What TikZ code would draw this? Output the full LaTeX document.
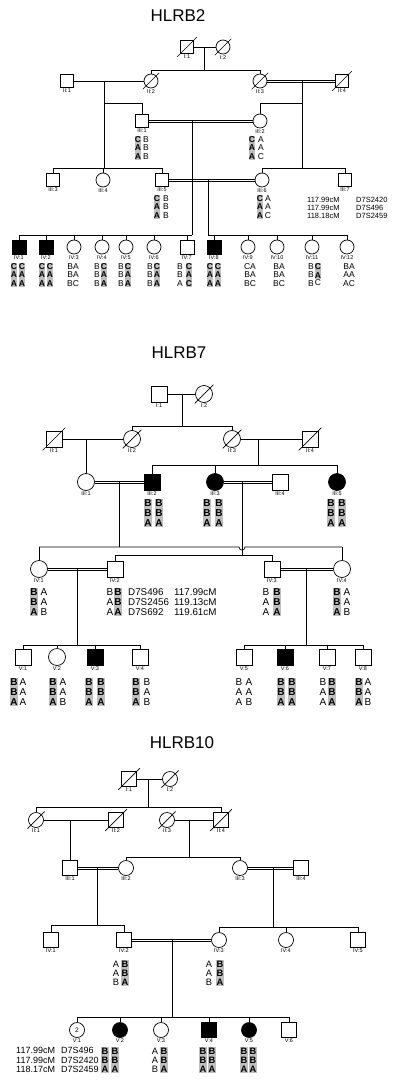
\documentclass[tikz,border=0pt]{standalone}
\usepackage{fontspec}
\setmainfont{Liberation Sans}
\definecolor{shd}{RGB}{190,190,190}
\tikzset{
 ln/.style={line width=0.7pt},
 dln/.style={line width=0.65pt},
 sq/.style={draw, rectangle, minimum size=#1, inner sep=0pt, line width=0.7pt},
 ci/.style={draw, circle, minimum size=#1, inner sep=0pt, line width=0.7pt},
 aff/.style={fill=black},
 lab/.style={font=\fontsize{5.5}{6}\selectfont, inner sep=0pt, label distance=1pt},
 L/.style={label={[lab]below:{#1}}},
 ttl/.style={font=\fontsize{17}{17}\selectfont, inner sep=0pt},
 gg/.style={align=center, inner sep=0.4pt},
 s2/.style={gg, fill=shd, font=\bfseries\fontsize{8.5}{8.3}\selectfont},
 p2/.style={gg, font=\fontsize{8.5}{8.3}\selectfont},
 s7/.style={gg, fill=shd, font=\bfseries\fontsize{10}{10}\selectfont},
 p7/.style={gg, font=\fontsize{10}{10}\selectfont},
 s10/.style={gg, fill=shd, font=\bfseries\fontsize{9.3}{9.2}\selectfont},
 p10/.style={gg, font=\fontsize{9.3}{9.2}\selectfont},
 mk2/.style={align=left, anchor=west, inner sep=0pt, font=\fontsize{7.5}{8.2}\selectfont},
 mk7/.style={align=left, anchor=west, inner sep=0pt, font=\fontsize{9.8}{10}\selectfont},
 mk10/.style={align=left, anchor=west, inner sep=0pt, font=\fontsize{9}{9.2}\selectfont},
}
\newcommand\dead[1]{\draw[line width=0.7pt] ([shift={(-3,3)}]#1.south west) -- ([shift={(3,-3)}]#1.north east);}
\newcommand\dmarr[2]{\draw[dln] ([yshift=1pt]#1.east) -- ([yshift=1pt]#2.west);\draw[dln] ([yshift=-1pt]#1.east) -- ([yshift=-1pt]#2.west);}
\begin{document}
\begin{tikzpicture}[x=1pt,y=-1pt]
\fill[white] (0,0) rectangle (400,1086);
\useasboundingbox (0,0) rectangle (400,1086);

%================ HLRB2 ================
\node[ttl] (tA) at (178,16) {HLRB2};
\node[sq=13, L=I:1] (aI1) at (187,47) {};
\node[ci=14, L=I:2] (aI2) at (223,47) {};
\node[sq=13, L=II:1] (aII1) at (67,81) {};
\node[ci=14, L=II:2] (aII2) at (151,81) {};
\node[ci=14, L=II:3] (aII3) at (260,81) {};
\node[sq=13, L=II:4] (aII4) at (342,81) {};
\node[sq=13, L=III:1] (aIII1) at (142,121) {};
\node[ci=14, L=III:2] (aIII2) at (260,121) {};
\node[sq=13, L=III:3] (aIII3) at (53,180) {};
\node[ci=14, L=III:4] (aIII4) at (103,180) {};
\node[sq=13, L=III:5] (aIII5) at (162,180) {};
\node[ci=14, L=III:6] (aIII6) at (262,180) {};
\node[sq=13, L=III:7] (aIII7) at (345,180) {};
\node[sq=14, aff, L=IV:1] (aIV1) at (19,247) {};
\node[sq=14, aff, L=IV:2] (aIV2) at (46,247) {};
\node[ci=14, L=IV:3] (aIV3) at (74,247) {};
\node[ci=14, L=IV:4] (aIV4) at (102,247) {};
\node[ci=14, L=IV:5] (aIV5) at (126,247) {};
\node[ci=14, L=IV:6] (aIV6) at (154,247) {};
\node[sq=14, L=IV:7] (aIV7) at (187,247) {};
\node[sq=14, aff, L=IV:8] (aIV8) at (214,247) {};
\node[ci=14, L=IV:9] (aIV9) at (248,247) {};
\node[ci=14, L=IV:10] (aIV10) at (277,247) {};
\node[ci=14, L=IV:11] (aIV11) at (312,247) {};
\node[ci=14, L=IV:12] (aIV12) at (347,247) {};
\dead{aI1}\dead{aI2}\dead{aII2}\dead{aII3}\dead{aII4}
% marriages
\draw[ln] (aI1) -- (aI2);
\draw[ln] (aII1) -- (aII2);
\dmarr{aII3}{aII4}
\dmarr{aIII1}{aIII2}
% descents
\coordinate (aM1) at (204,47); \coordinate (aS1) at (204,70);
\draw[ln] (aM1) -- (aS1);
\draw[ln] (aII2 |- aS1) -- (aII3 |- aS1);
\draw[ln] (aII2) -- (aII2 |- aS1);
\draw[ln] (aII3) -- (aII3 |- aS1);
\coordinate (aM2) at (104,81); \coordinate (aS3) at (104,168); \coordinate (aB1) at (104,103);
\draw[ln] (aM2) -- (aS3);
\draw[ln] (aB1) -| (aIII1);
\draw[ln] (aIII3 |- aS3) -- (aIII5 |- aS3);
\foreach \c in {aIII3,aIII4,aIII5} \draw[ln] (\c) -- (\c |- aS3);
\coordinate (aM3) at (302,81); \coordinate (aS4) at (302,168); \coordinate (aB2) at (302,103);
\draw[ln] (aM3) -- (aS4);
\draw[ln] (aB2) -| (aIII2);
\draw[ln] (aIII6 |- aS4) -- (aIII7 |- aS4);
\foreach \c in {aIII6,aIII7} \draw[ln] (\c) -- (\c |- aS4);
\coordinate (aM4) at (192,121); \coordinate (aS5) at (192,235);
\draw[ln] (aM4) -- (aS5);
\dmarr{aIII5}{aIII6}
\coordinate (aM5) at (208,180); \coordinate (aS6) at (208,235);
\draw[ln] (aM5) -- (aS6);
\draw[ln] (aIV1 |- aS5) -- (aS5);
\draw[ln] (aS6) -- (aIV12 |- aS6);
\foreach \c in {aIV1,aIV2,aIV3,aIV4,aIV5,aIV6,aIV7} \draw[ln] (\c) -- (\c |- aS5);
\foreach \c in {aIV8,aIV9,aIV10,aIV11,aIV12} \draw[ln] (\c) -- (\c |- aS6);
% genotypes
\node[s2] (ga1) at (138,148) {C\\A\\A};
\node[p2] (ga2) at (146,148) {B\\B\\B};
\node[s2] (ga3) at (252,148) {C\\A\\A};
\node[p2] (ga4) at (261,148) {A\\A\\C};
\node[s2] (ga5) at (157,207) {C\\A\\A};
\node[p2] (ga6) at (166,207) {B\\B\\B};
\node[s2] (ga7) at (260,207) {C\\A\\A};
\node[p2] (ga8) at (268,207) {A\\A\\C};
\node[mk2] (ga9) at (307,208) {117.99cM\\117.99cM\\118.18cM};
\node[mk2] (ga10) at (356,208) {D7S2420\\D7S496\\D7S2459};
\node[s2] (gb1) at (14,275) {C\\A\\A};
\node[s2] (gb2) at (22,275) {C\\A\\A};
\node[s2] (gb3) at (42,275) {C\\A\\A};
\node[s2] (gb4) at (50,275) {C\\A\\A};
\node[p2] (gb5) at (73,275) {BA\\BA\\BC};
\node[p2] (gb6) at (97,275) {B\\B\\B};
\node[s2] (gb7) at (104,275) {C\\A\\A};
\node[p2] (gb8) at (121,275) {B\\B\\B};
\node[s2] (gb9) at (128,275) {C\\A\\A};
\node[p2] (gb10) at (150,275) {B\\B\\B};
\node[s2] (gb11) at (157,275) {C\\A\\A};
\node[p2] (gb12) at (180,275) {B\\B\\A};
\node[s2] (gb13) at (189,275) {C\\A\\C};
\node[s2] (gb14) at (210,275) {C\\A\\A};
\node[s2] (gb15) at (218,275) {C\\A\\A};
\node[p2] (gb16) at (250,275) {CA\\BA\\BC};
\node[p2] (gb17) at (279,275) {BA\\BA\\BC};
\node[p2] (gb18) at (311,275) {B\\B\\B};
\node[s2] (gb19) at (318,271) {C\\A};
\node[p2] (gb20) at (318,283) {C};
\node[p2] (gb21) at (349,275) {BA\\AA\\AC};

%================ HLRB7 ================
\node[ttl] (tB) at (179,353) {HLRB7};
\node[sq=16, L=I:1] (bI1) at (159,394) {};
\node[ci=17, L=I:2] (bI2) at (204,394) {};
\node[sq=16, L=II:1] (bII1) at (54,439) {};
\node[ci=17, L=II:2] (bII2) at (132,439) {};
\node[ci=17, L=II:3] (bII3) at (232,439) {};
\node[sq=16, L=II:4] (bII4) at (310,439) {};
\node[ci=17, L=III:1] (bIII1) at (86,482) {};
\node[sq=16, aff, L=III:2] (bIII2) at (152,482) {};
\node[ci=17, aff, L=III:3] (bIII3) at (215,482) {};
\node[sq=16, L=III:4] (bIII4) at (280,482) {};
\node[ci=17, aff, L=III:5] (bIII5) at (337,482) {};
\node[ci=17, L=IV:1] (bIV1) at (39,569) {};
\node[sq=16, L=IV:2] (bIV2) at (115,569) {};
\node[sq=16, L=IV:3] (bIV3) at (272,569) {};
\node[ci=17, L=IV:4] (bIV4) at (342,569) {};
\node[sq=16, L=V:1] (bV1) at (23,657) {};
\node[ci=17, L=V:2] (bV2) at (57,657) {};
\node[sq=16, aff, L=V:3] (bV3) at (95,657) {};
\node[sq=16, L=V:4] (bV4) at (140,657) {};
\node[sq=16, L=V:5] (bV5) at (244,657) {};
\node[sq=16, aff, L=V:6] (bV6) at (285,657) {};
\node[sq=16, L=V:7] (bV7) at (327,657) {};
\node[sq=16, L=V:8] (bV8) at (363,657) {};
\dead{bI2}\dead{bII1}\dead{bII2}\dead{bII3}\dead{bII4}
\draw[ln] (bI1) -- (bI2);
\draw[ln] (bII1) -- (bII2);
\draw[ln] (bII3) -- (bII4);
\dmarr{bIII1}{bIII2}
\dmarr{bIII3}{bIII4}
\dmarr{bIV1}{bIV2}
\dmarr{bIV3}{bIV4}
\coordinate (bM1) at (182,394); \coordinate (bS1) at (182,426);
\draw[ln] (bM1) -- (bS1);
\draw[ln] (bII2 |- bS1) -- (bII3 |- bS1);
\foreach \c in {bII2,bII3} \draw[ln] (\c) -- (\c |- bS1);
\coordinate (bM2) at (86,439);
\draw[ln] (bM2) -- (bIII1);
\coordinate (bM3) at (258,439); \coordinate (bS2) at (258,465);
\draw[ln] (bM3) -- (bS2);
\draw[ln] (bIII2 |- bS2) -- (bIII5 |- bS2);
\foreach \c in {bIII2,bIII3,bIII5} \draw[ln] (\c) -- (\c |- bS2);
\coordinate (bM4) at (119,482); \coordinate (bS3) at (119,547);
\draw[ln] (bM4) -- (bS3);
\coordinate (bM5) at (242,482); \coordinate (bS4) at (242,555);
\draw[ln] (bM5) -- (bS4);
\draw[ln] (bIV1 |- bS3) -- (239,547) arc[start angle=180, end angle=0, radius=3] -- (bIV4 |- bS3);
\draw[ln] (bIV2 |- bS4) -- (bIV3 |- bS4);
\foreach \c in {bIV1,bIV4} \draw[ln] (\c) -- (\c |- bS3);
\foreach \c in {bIV2,bIV3} \draw[ln] (\c) -- (\c |- bS4);
\coordinate (bM6) at (77,569); \coordinate (bS5) at (77,645);
\draw[ln] (bM6) -- (bS5);
\coordinate (bM7) at (306,569); \coordinate (bS6) at (306,645);
\draw[ln] (bM7) -- (bS6);
\draw[ln] (bV1 |- bS5) -- (bV4 |- bS5);
\draw[ln] (bV5 |- bS6) -- (bV8 |- bS6);
\foreach \c in {bV1,bV2,bV3,bV4} \draw[ln] (\c) -- (\c |- bS5);
\foreach \c in {bV5,bV6,bV7,bV8} \draw[ln] (\c) -- (\c |- bS6);
% genotypes
\node[s7] (gc1) at (148,513) {B\\B\\A};
\node[s7] (gc2) at (159,513) {B\\B\\A};
\node[s7] (gc3) at (207,513) {B\\B\\A};
\node[s7] (gc4) at (219,513) {B\\B\\A};
\node[s7] (gc5) at (331,513) {B\\B\\A};
\node[s7] (gc6) at (342,513) {B\\B\\A};
\node[s7] (gd1) at (34,602) {B\\B\\A};
\node[p7] (gd2) at (44,602) {A\\A\\B};
\node[p7] (gd3) at (110,602) {B\\A\\A};
\node[s7] (gd4) at (118,602) {B\\B\\A};
\node[mk7] (gd5) at (128,602) {D7S496\\D7S2456\\D7S692};
\node[mk7] (gd6) at (174,602) {117.99cM\\119.13cM\\119.61cM};
\node[p7] (gd7) at (266,602) {B\\A\\A};
\node[s7] (gd8) at (277,602) {B\\B\\A};
\node[s7] (gd9) at (337,602) {B\\B\\A};
\node[p7] (gd10) at (347,602) {A\\A\\B};
\node[s7] (ge1) at (14,692) {B\\B\\A};
\node[p7] (ge2) at (23,692) {A\\A\\A};
\node[s7] (ge3) at (53,692) {B\\B\\A};
\node[p7] (ge4) at (63,692) {A\\A\\B};
\node[s7] (ge5) at (89,692) {B\\B\\A};
\node[s7] (ge6) at (101,692) {B\\B\\A};
\node[s7] (ge7) at (136,692) {B\\B\\A};
\node[p7] (ge8) at (147,692) {B\\A\\B};
\node[p7] (ge9) at (239,692) {B\\A\\A};
\node[p7] (ge10) at (249,692) {A\\A\\B};
\node[s7] (ge11) at (281,692) {B\\B\\A};
\node[s7] (ge12) at (292,692) {B\\B\\A};
\node[p7] (ge13) at (323,692) {B\\A\\A};
\node[s7] (ge14) at (332,692) {B\\B\\A};
\node[s7] (ge15) at (359,692) {B\\B\\A};
\node[p7] (ge16) at (368,692) {A\\A\\B};

%================ HLRB10 ================
\node[ttl] (tC) at (182,743) {HLRB10};
\node[sq=15, L=I:1] (cI1) at (129,779) {};
\node[ci=15, L=I:2] (cI2) at (170,779) {};
\node[ci=15, L=II:1] (cII1) at (36,820) {};
\node[sq=15, L=II:2] (cII2) at (116,820) {};
\node[ci=15, L=II:3] (cII3) at (167,820) {};
\node[sq=15, L=II:4] (cII4) at (221,820) {};
\node[sq=15, L=III:1] (cIII1) at (70,868) {};
\node[ci=15, L=III:2] (cIII2) at (126,868) {};
\node[ci=15, L=III:3] (cIII3) at (240,868) {};
\node[sq=15, L=III:4] (cIII4) at (301,868) {};
\node[sq=15, L=IV:1] (cIV1) at (51,940) {};
\node[sq=15, L=IV:2] (cIV2) at (124,940) {};
\node[ci=15, L=IV:3] (cIV3) at (219,940) {};
\node[ci=15, L=IV:4] (cIV4) at (286,940) {};
\node[sq=15, L=IV:5] (cIV5) at (358,940) {};
\node[ci=15, L=V:1, font=\fontsize{6.5}{6.5}\selectfont] (cV1) at (77,1030) {2};
\node[ci=15, aff, L=V:2] (cV2) at (120,1030) {};
\node[ci=15, L=V:3] (cV3) at (161,1030) {};
\node[sq=15, aff, L=V:4] (cV4) at (209,1030) {};
\node[ci=15, aff, L=V:5] (cV5) at (249,1030) {};
\node[sq=15, L=V:6] (cV6) at (289,1030) {};
\dead{cI1}\dead{cI2}\dead{cII1}\dead{cII2}\dead{cII3}\dead{cII4}
\draw[ln] (cI1) -- (cI2);
\draw[ln] (cII1) -- (cII2);
\draw[ln] (cII3) -- (cII4);
\dmarr{cIII1}{cIII2}
\dmarr{cIII3}{cIII4}
\dmarr{cIV2}{cIV3}
\coordinate (cM1) at (148,779); \coordinate (cS1) at (148,807);
\draw[ln] (cM1) -- (cS1);
\draw[ln] (cII1 |- cS1) -- (cII4 |- cS1);
\foreach \c in {cII1,cII4} \draw[ln] (\c) -- (\c |- cS1);
\coordinate (cM2) at (70,820);
\draw[ln] (cM2) -- (cIII1);
\coordinate (cM3) at (189,820); \coordinate (cS2) at (189,857);
\draw[ln] (cM3) -- (cS2);
\draw[ln] (cIII2 |- cS2) -- (cIII3 |- cS2);
\foreach \c in {cIII2,cIII3} \draw[ln] (\c) -- (\c |- cS2);
\coordinate (cM4) at (97,868); \coordinate (cS3) at (97,925);
\draw[ln] (cM4) -- (cS3);
\draw[ln] (cIV1 |- cS3) -- (cIV2 |- cS3);
\foreach \c in {cIV1,cIV2} \draw[ln] (\c) -- (\c |- cS3);
\coordinate (cM5) at (273,868); \coordinate (cS4) at (273,927);
\draw[ln] (cM5) -- (cS4);
\draw[ln] (cIV3 |- cS4) -- (cIV5 |- cS4);
\foreach \c in {cIV3,cIV4,cIV5} \draw[ln] (\c) -- (\c |- cS4);
\coordinate (cM6) at (172,940); \coordinate (cS5) at (172,1017);
\draw[ln] (cM6) -- (cS5);
\draw[ln] (cV1 |- cS5) -- (cV6 |- cS5);
\foreach \c in {cV1,cV2,cV3,cV4,cV5,cV6} \draw[ln] (\c) -- (\c |- cS5);
% genotypes
\node[p10] (gf1) at (116,973) {A\\A\\B};
\node[s10] (gf2) at (125,973) {B\\B\\A};
\node[p10] (gf3) at (209,973) {A\\A\\B};
\node[s10] (gf4) at (220,973) {B\\B\\A};
\node[mk10] (gg1) at (16,1060) {117.99cM\\117.99cM\\118.17cM};
\node[mk10] (gg2) at (61,1060) {D7S496\\D7S2420\\D7S2459};
\node[s10] (gg3) at (105,1060) {B\\B\\A};
\node[s10] (gg4) at (115,1060) {B\\B\\A};
\node[p10] (gg5) at (155,1060) {A\\A\\B};
\node[s10] (gg6) at (164,1060) {B\\B\\A};
\node[s10] (gg7) at (203,1060) {B\\B\\A};
\node[s10] (gg8) at (212,1060) {B\\B\\A};
\node[s10] (gg9) at (244,1060) {B\\B\\A};
\node[s10] (gg10) at (253,1060) {B\\B\\A};
\end{tikzpicture}
\end{document}
